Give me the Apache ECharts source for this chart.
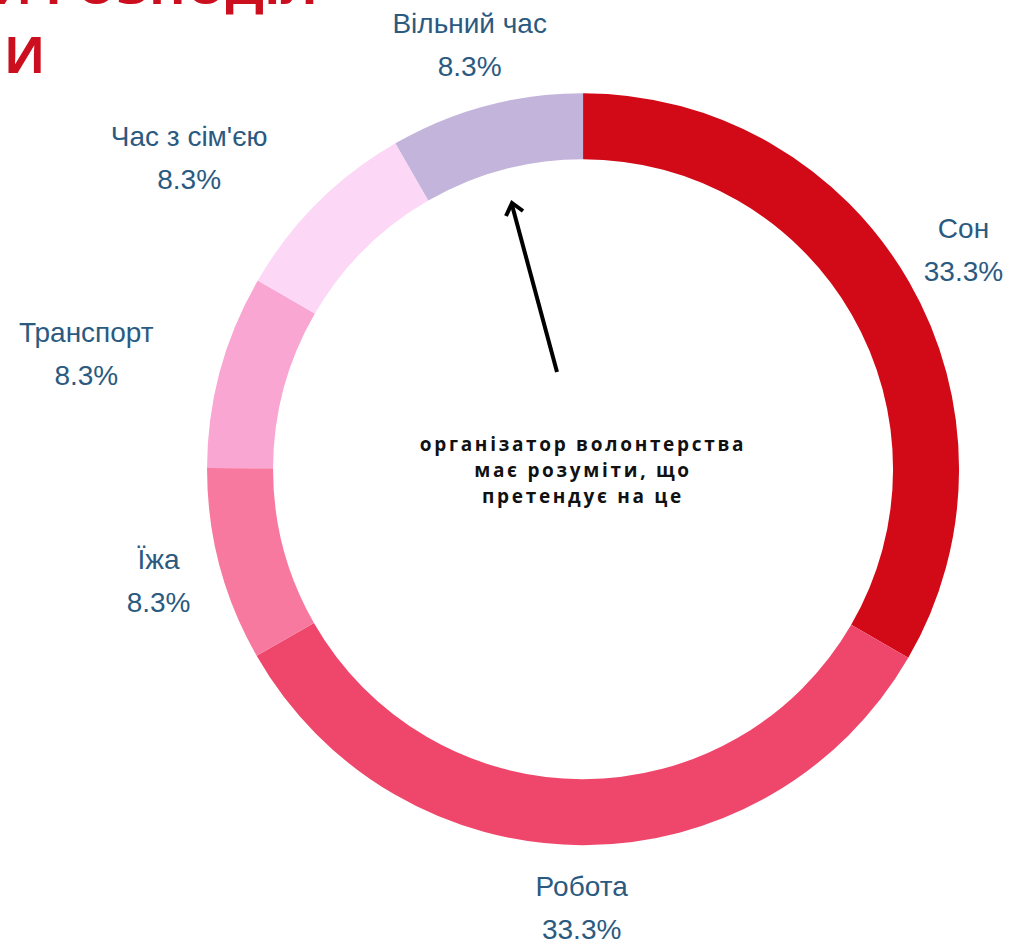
<!DOCTYPE html>
<html>
<head>
<meta charset="utf-8">
<script src="https://cdn.jsdelivr.net/npm/echarts@6/dist/echarts.min.js"></script>
<style>
  html, body { margin: 0; padding: 0; background: #fff; }
  #chart { width: 1014px; height: 944px; }
  /* the note in the middle is set wide */
  #chart text[style*="19px"] { letter-spacing: 2.7px; }
</style>
</head>
<body>
<div id="chart"></div>
<script>
// categories clockwise from 12 o'clock, shares in %
const categories = ['Сон', 'Робота', 'Їжа', 'Транспорт', "Час з сім'єю", 'Вільний час'];
const shares = [33.3, 33.3, 8.3, 8.3, 8.3, 8.3];
const colors = ['#d20a17', '#ef476b', '#f8799f', '#f9a6d3', '#fcd8f6', '#c3b4db'];

// label placement tweaks (px, horizontal) so the wide labels clear the ring
const labelShift = [0, 0, 0, -73, -84, 0];

const chart = echarts.init(document.getElementById('chart'), null, { renderer: 'svg' });
window.addEventListener('resize', function () {
  chart.resize();
});

const cxPct = 0.575, cyPct = 0.497;
const labelR = 439;
const total = shares.reduce((a, b) => a + b, 0);

const labelPos = (i) => {
  let before = 0;
  for (let k = 0; k < i; k++) before += shares[k];
  const a = (before + shares[i] / 2) / total * 2 * Math.PI;
  return {
    x: chart.getWidth() * cxPct + labelR * Math.sin(a) + labelShift[i],
    y: chart.getHeight() * cyPct - labelR * Math.cos(a)
  };
};

const option = {
  animation: false,
  graphic: [
    // title runs off the top edge, as in the source image
    {
      type: 'text', left: -9, top: -40,
      style: { text: 'И РОЗПОДІЛ', font: 'bold 50px "Open Sans"', fill: '#cc0f1f' }
    },
    {
      type: 'text', left: 4, top: 29,
      style: { text: 'И', font: 'bold 50px "Open Sans"', fill: '#cc0f1f' }
    },
    {
      type: 'text', x: 583, y: 470,
      style: {
        text: 'організатор волонтерства\nмає розуміти, що\nпретендує на це',
        font: 'bold 19px "Open Sans"', fill: '#111', align: 'center', verticalAlign: 'middle',
        lineHeight: 26
      }
    },
    {
      type: 'polyline',
      shape: { points: [[557, 372], [512, 205]] },
      style: { stroke: '#000', lineWidth: 4, fill: null }
    },
    {
      type: 'polyline',
      shape: { points: [[506, 216], [512, 203], [523, 211]] },
      style: { stroke: '#000', lineWidth: 4, fill: null, lineJoin: 'miter' }
    }
  ],
  series: [
    {
      type: 'pie',
      center: ['57.5%', '49.7%'],
      radius: [310, 376],
      startAngle: 90,
      clockwise: true,
      avoidLabelOverlap: false,
      silent: true,
      data: categories.map((c, i) => ({
        name: c, value: shares[i], itemStyle: { color: colors[i] }
      })),
      label: {
        show: true,
        position: 'outside',
        formatter: (p) => p.name + '\n' + p.value.toFixed(1) + '%',
        color: '#2b5a80',
        fontFamily: '"Liberation Sans", Arial, sans-serif',
        fontSize: 28,
        lineHeight: 43
      },
      labelLine: { show: false },
      labelLayout: function (params) {
        const p = labelPos(params.dataIndex);
        return { x: p.x, y: p.y, align: 'center', verticalAlign: 'middle' };
      }
    }
  ]
};

chart.setOption(option);
</script>
</body>
</html>
